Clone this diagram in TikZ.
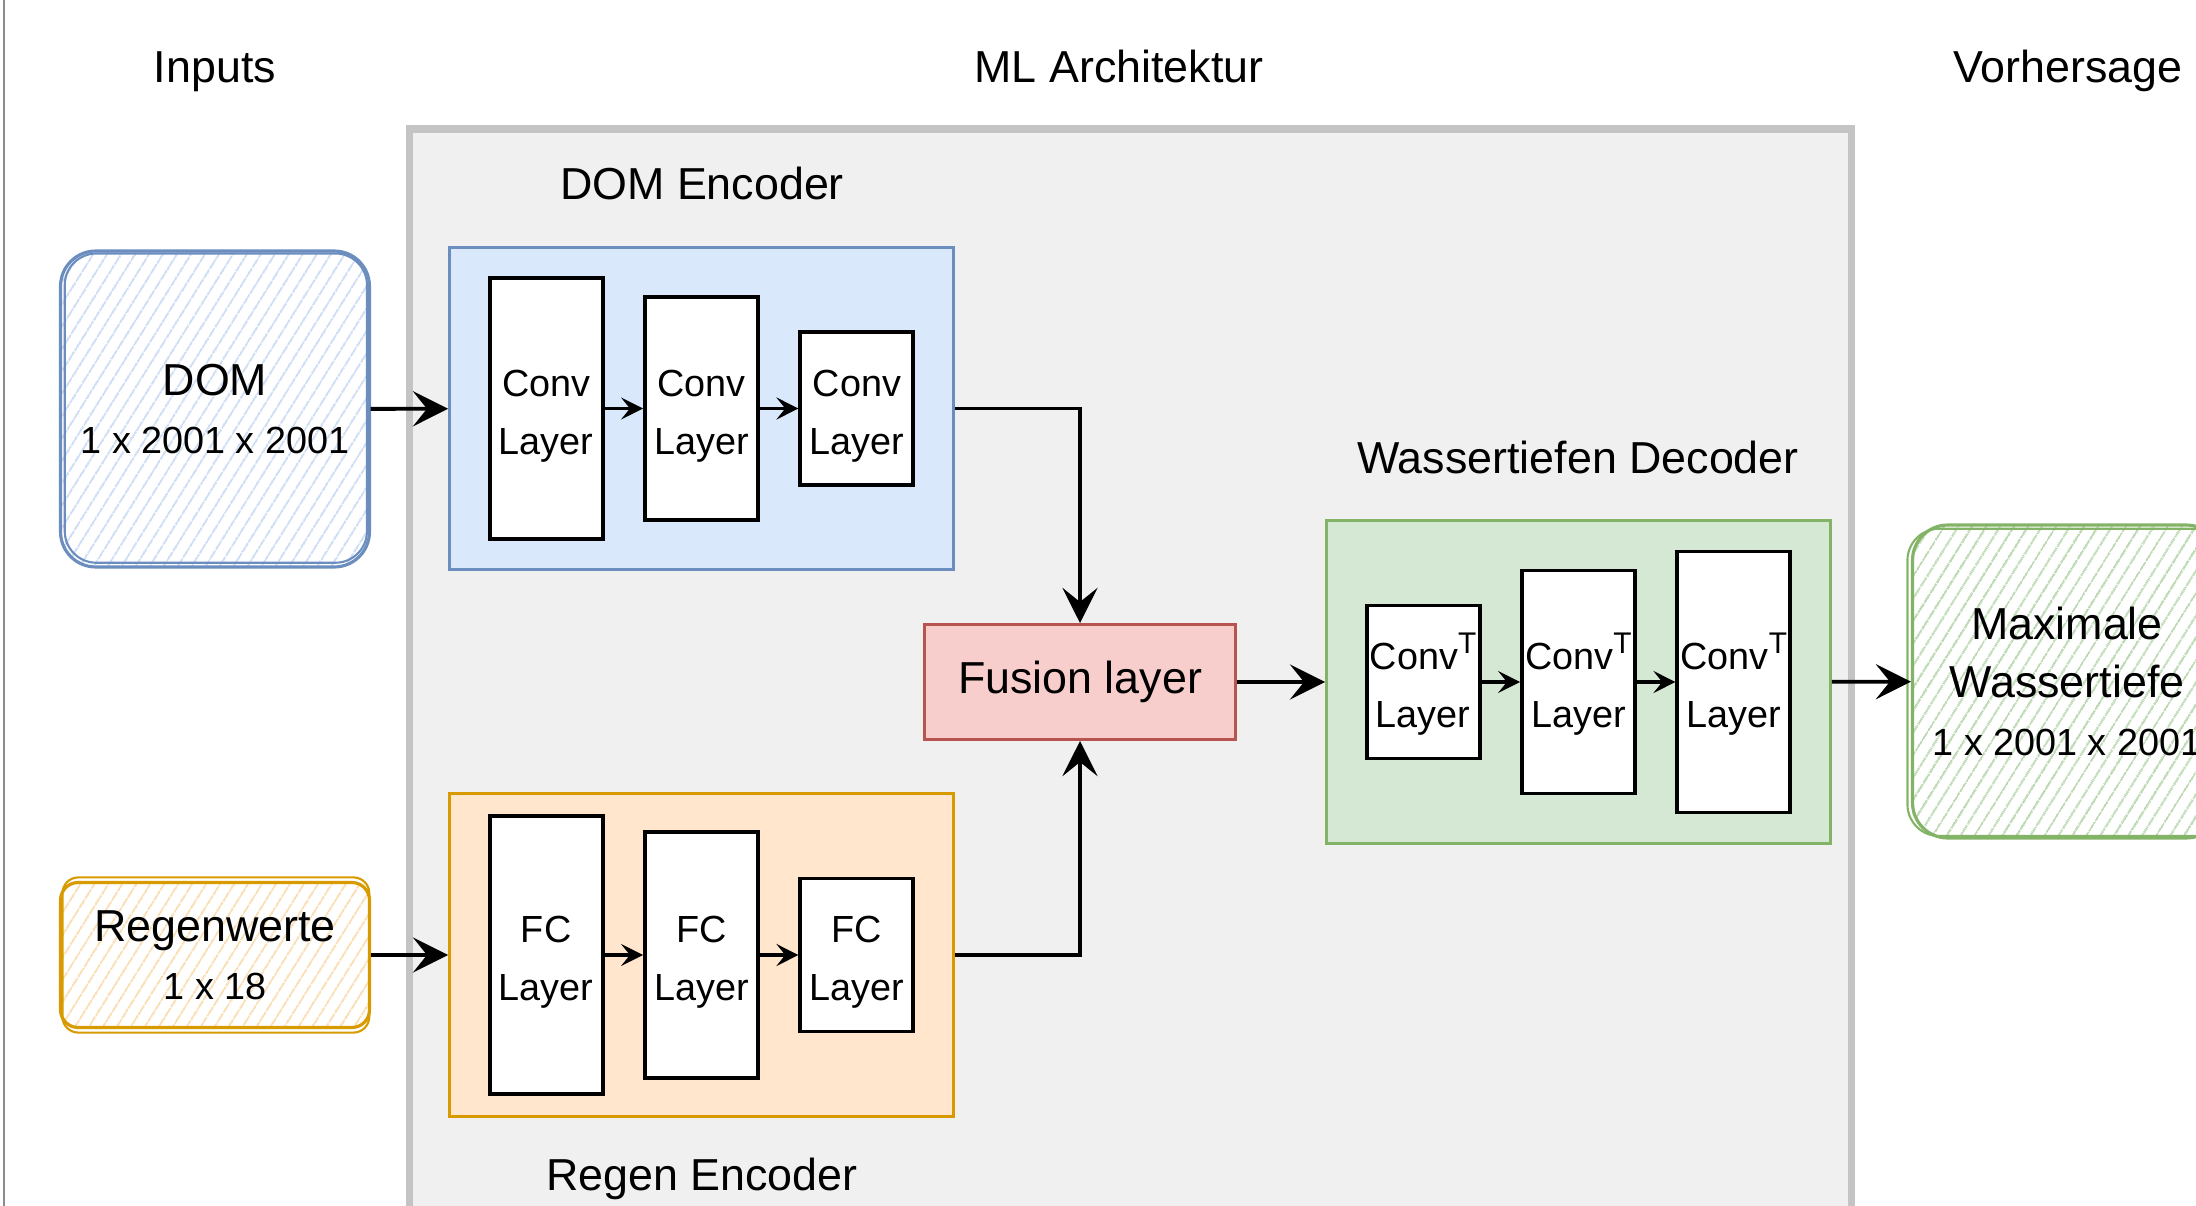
\documentclass[tikz,border=0pt]{standalone}
\usepackage{fontspec}
\setmainfont{Liberation Sans}
\usetikzlibrary{arrows.meta,positioning,patterns.meta}

\definecolor{archfill}{HTML}{F0F0F0}
\definecolor{archline}{HTML}{C4C4C4}
\definecolor{frameline}{HTML}{8C8C8C}
\definecolor{domfill}{HTML}{DAE8FC}
\definecolor{domline}{HTML}{6C8EBF}
\definecolor{regenfill}{HTML}{FFE6CC}
\definecolor{regenline}{HTML}{D79B00}
\definecolor{decfill}{HTML}{D5E8D4}
\definecolor{decline}{HTML}{82B366}
\definecolor{fusefill}{HTML}{F8CECC}
\definecolor{fuseline}{HTML}{B85450}
\colorlet{domhatch}{domfill!85!domline}
\colorlet{regenhatch}{regenfill!85!regenline}
\colorlet{dechatch}{decfill!70!decline}

\newcommand{\bigtxt}{\fontsize{25.5}{33}\selectfont}
\newcommand{\smalltxt}{\fontsize{21.5}{33}\selectfont}
\newcommand{\convT}{Conv\raisebox{9.5pt}{\fontsize{17}{17}\selectfont T}}

\begin{document}
\begin{tikzpicture}[x=0.02cm,y=-0.02cm,
    bigarrow/.style={-{Stealth[length=20pt,width=20pt,inset=8pt]},line width=2.2pt},
    smallarrow/.style={-{Stealth[length=12.5pt,width=12.5pt,inset=5pt]},line width=2.2pt},
    layer/.style={draw,fill=white,line width=2.2pt,minimum width=2.26cm,align=center,
      font=\smalltxt,inner sep=1pt,text height=52pt,text depth=0pt},
    block/.style={draw,line width=1.7pt,minimum width=10.08cm,minimum height=6.46cm},
    title/.style={anchor=base,font=\bigtxt},
    sketch/.style={draw,line width=1.8pt,align=center,font=\bigtxt,
      pattern={Lines[angle=58,distance=6.5pt,line width=1.2pt]}},
    node distance=0.77cm]

  \useasboundingbox (0,0) rectangle (2196,1206);
  \clip (0,0) rectangle (2196,1206);

  \draw[frameline,line width=1.2pt] (4,0) -- (4,1206);
  \draw[archline,fill=archfill,line width=4pt] (409.5,129) rectangle (1851.5,1300);

  % titles
  \node[title] (inputs) at (215,83) {Inputs};
  \node[title] (mlarch) at (1119,83) {ML Architektur};
  \node[title] (vorher) at (2068,83) {Vorhersage};
  \node[title] (domtitle) at (702,200) {DOM Encoder};
  \node[title] (dectitle) at (1578,473) {Wassertiefen Decoder};
  \node[title] (regentitle) at (702,1190) {Regen Encoder};

  % inputs and output
  \node[sketch,draw=domline,pattern color=domhatch,rounded corners=20pt,
    minimum width=6.18cm,minimum height=6.32cm] (dom) at (215,409)
    {DOM\\{\smalltxt 1 x 2001 x 2001}};
  \draw[domline,line width=1.2pt,rounded corners=18pt]
    ([xshift=3pt,yshift=-2pt]dom.north west) rectangle ([xshift=-2pt,yshift=3pt]dom.south east);
  \node[sketch,draw=regenline,pattern color=regenhatch,rounded corners=10pt,
    minimum width=6.18cm,minimum height=2.9cm] (regen) at (215,955)
    {Regenwerte\\{\smalltxt 1 x 18}};
  \draw[regenline,line width=1.2pt,rounded corners=9pt]
    ([xshift=2pt,yshift=2pt]regen.north west) rectangle ([xshift=-1pt,yshift=-2pt]regen.south east);
  \node[sketch,draw=decline,pattern color=dechatch,rounded corners=20pt,
    minimum width=6.18cm,minimum height=6.26cm] (out) at (2067,681.5)
    {Maximale\\Wassertiefe\\{\smalltxt 1 x 2001 x 2001}};
  \draw[decline,line width=1.2pt,rounded corners=18pt]
    ([xshift=-2pt,yshift=-3pt]out.north west) rectangle ([xshift=2pt,yshift=2pt]out.south east);

  % DOM encoder
  \node[block,fill=domfill,draw=domline] (domenc) at (701.5,408.5) {};
  \node[layer,minimum height=4.46cm] (conv2) at (domenc.center) {Conv\\Layer};
  \node[layer,minimum height=5.22cm,left=of conv2] (conv1) {Conv\\Layer};
  \node[layer,minimum height=3.06cm,right=of conv2] (conv3) {Conv\\Layer};

  % Regen encoder
  \node[block,fill=regenfill,draw=regenline] (regenenc) at (701.5,955) {};
  \node[layer,minimum height=4.92cm] (fc2) at (regenenc.center) {FC\\Layer};
  \node[layer,minimum height=5.56cm,left=of fc2] (fc1) {FC\\Layer};
  \node[layer,minimum height=3.06cm,right=of fc2] (fc3) {FC\\Layer};

  % fusion and decoder
  \node[draw=fuseline,fill=fusefill,line width=1.7pt,minimum width=6.22cm,
    minimum height=2.3cm,font=\bigtxt] (fusion) at (1080,682) {Fusion layer};
  \node[block,fill=decfill,draw=decline] (decoder) at (1578.5,682) {};
  \node[layer,minimum height=4.46cm] (convt2) at (decoder.center) {\convT\\Layer};
  \node[layer,minimum height=3.06cm,left=of convt2] (convt1) {\convT\\Layer};
  \node[layer,minimum height=5.22cm,right=of convt2] (convt3) {\convT\\Layer};

  \draw[bigarrow] (dom) -- (domenc);
  \draw[bigarrow] (regen) -- (regenenc);
  \draw[smallarrow] (conv1) -- (conv2);
  \draw[smallarrow] (conv2) -- (conv3);
  \draw[smallarrow] (fc1) -- (fc2);
  \draw[smallarrow] (fc2) -- (fc3);
  \draw[bigarrow] (domenc.east) -| (fusion.north);
  \draw[bigarrow] (regenenc.east) -| (fusion.south);
  \draw[bigarrow] (fusion) -- (decoder);
  \draw[smallarrow] (convt1) -- (convt2);
  \draw[smallarrow] (convt2) -- (convt3);
  \draw[bigarrow] (decoder) -- (out);
\end{tikzpicture}
\end{document}
